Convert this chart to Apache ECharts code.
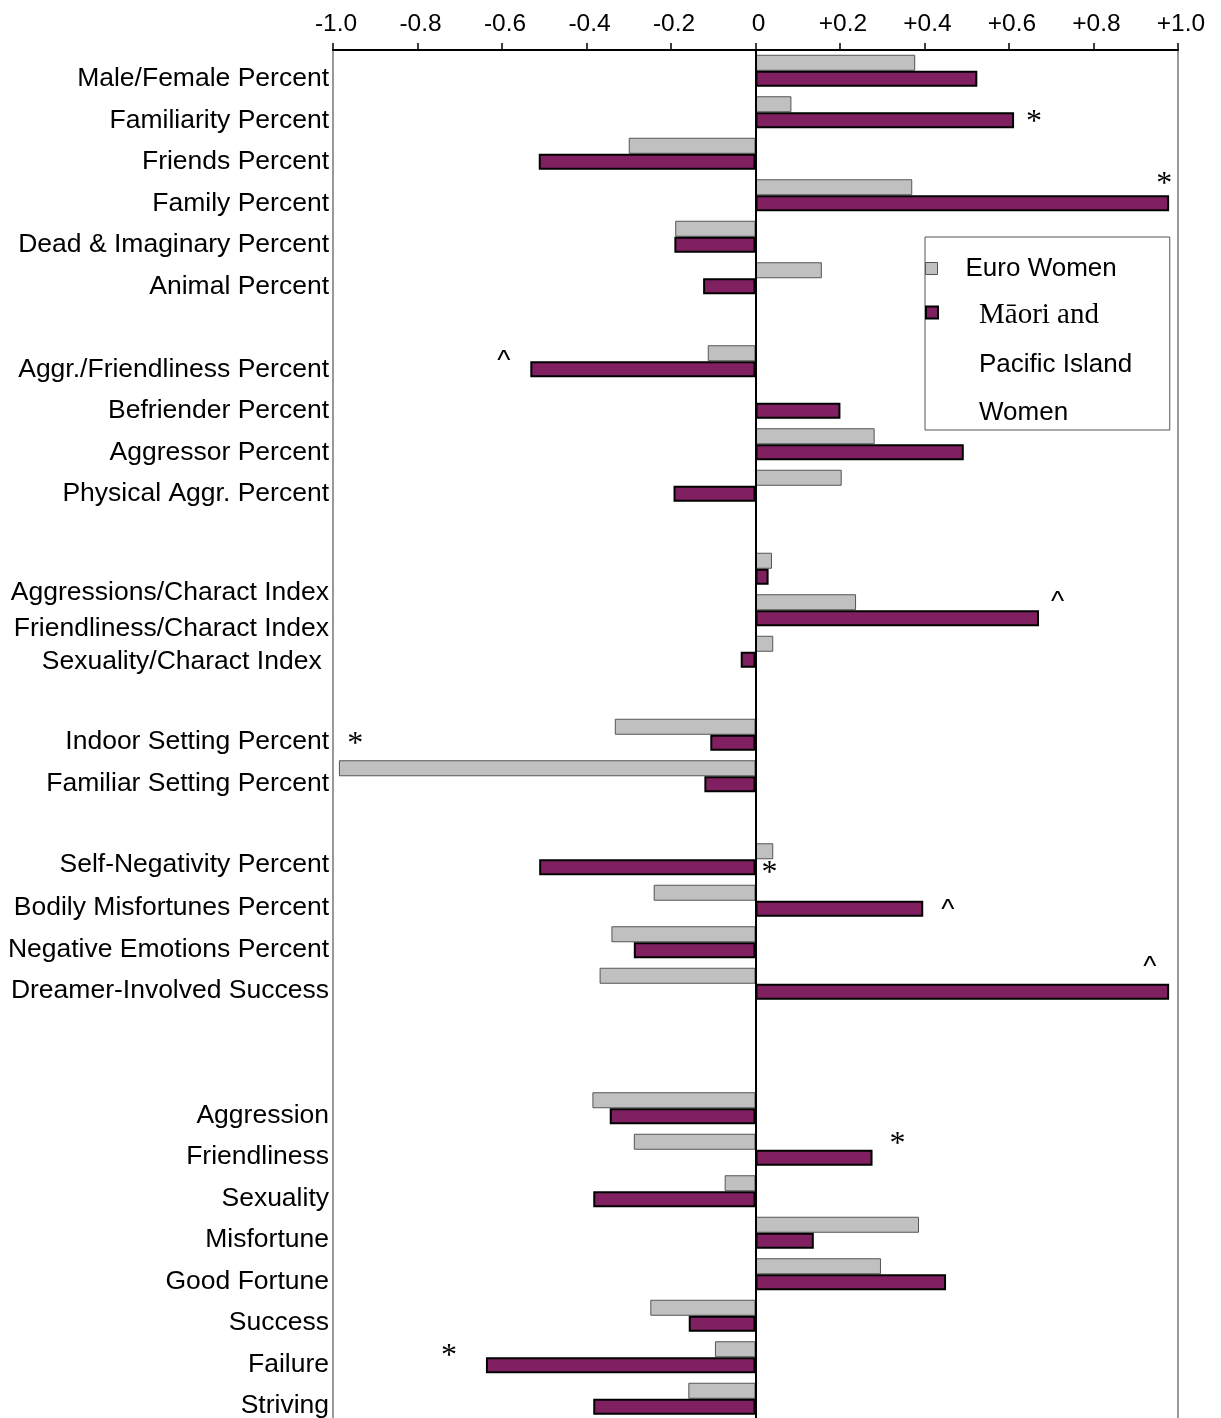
<!DOCTYPE html>
<html>
<head>
<meta charset="utf-8">
<script src="https://cdn.jsdelivr.net/npm/echarts@6/dist/echarts.min.js"></script>
<style>
  html, body { margin: 0; padding: 0; background: #fff; }
  #chart { width: 1221px; height: 1418px; }
</style>
</head>
<body>
<div id="chart"></div>
<script>
// Rows of the chart, top to bottom; empty strings are spacer rows between groups.
const categories = [
  'Male/Female Percent', 'Familiarity Percent', 'Friends Percent', 'Family Percent',
  'Dead & Imaginary Percent', 'Animal Percent', '',
  'Aggr./Friendliness Percent', 'Befriender Percent', 'Aggressor Percent', 'Physical Aggr. Percent', '',
  'Aggressions/Charact Index', 'Friendliness/Charact Index', 'Sexuality/Charact Index ', '',
  'Indoor Setting Percent', 'Familiar Setting Percent', '',
  'Self-Negativity Percent', 'Bodily Misfortunes Percent', 'Negative Emotions Percent', 'Dreamer-Involved Success', '', '',
  'Aggression', 'Friendliness', 'Sexuality', 'Misfortune', 'Good Fortune', 'Success', 'Failure', 'Striving'
];

const euroWomen = [
  0.378, 0.085, -0.300, 0.371, -0.190, 0.157, null,
  -0.113, null, 0.282, 0.204, null,
  0.039, 0.238, 0.042, null,
  -0.333, -0.986, null,
  0.042, -0.241, -0.341, -0.369, null, null,
  -0.386, -0.288, -0.073, 0.387, 0.297, -0.249, -0.096, -0.159
];

const maoriPacificWomen = [
  0.525, 0.612, -0.513, 0.979, -0.192, -0.124, null,
  -0.533, 0.201, 0.493, -0.194, null,
  0.031, 0.671, -0.035, null,
  -0.107, -0.121, null,
  -0.512, 0.397, -0.288, 0.979, null, null,
  -0.345, 0.277, -0.384, 0.138, 0.451, -0.158, -0.638, -0.384
];

// Significance marks next to the Māori and Pacific Island bars.
const significance = [
  '', '*', '', '*', '', '', '',
  '^', '', '', '', '',
  '', '^', '', '',
  '*', '', '',
  '*', '^', '', '^', '', '',
  '', '*', '', '', '', '', '*', ''
];

const tickLabels = ['-1.0', '-0.8', '-0.6', '-0.4', '-0.2', '0', '+0.2', '+0.4', '+0.6', '+0.8', '+1.0'];

const legendLines = ['Māori and', 'Pacific Island', 'Women'];
const seriesNames = ['Euro Women', legendLines.join(' ')];

// ---- presentation ----
const SANS = "'Liberation Sans', Arial, Helvetica, sans-serif";
const SERIF = "'Liberation Serif', 'Times New Roman', serif";
const GREY = '#C0C0C0';
const PLUM = '#802060';

// Row labels sit a little below their bars; a few index labels sit lower still.
const labelShift = {
  'Aggressions/Charact Index': 24, 'Friendliness/Charact Index': 18, 'Sexuality/Charact Index ': 10,
  'Indoor Setting Percent': 7, 'Familiar Setting Percent': 7, 'Self-Negativity Percent': 5,
  'Bodily Misfortunes Percent': 7, 'Negative Emotions Percent': 7, 'Dreamer-Involved Success': 7,
  'Aggression': 7, 'Friendliness': 7, 'Sexuality': 7, 'Misfortune': 7, 'Good Fortune': 7,
  'Success': 7, 'Failure': 7, 'Striving': 7
};
const shiftOf = name => labelShift[name] != null ? labelShift[name] : 8;
const labelRich = {};
[5, 7, 8, 10, 18, 24].forEach(s => {
  labelRich['s' + s] = { fontFamily: SANS, fontSize: 26.5, color: '#000', lineHeight: 30, padding: [2 * s, 0, 0, 0] };
});

// Where each significance mark sits relative to the end of its bar.
const markLayout = {
  'Familiarity Percent':        { pos: 'right', dx: 7,    dy: 2 },
  'Family Percent':             { pos: 'right', dx: -18,  dy: -19 },
  'Aggr./Friendliness Percent': { pos: 'left',  dx: -15,  dy: -8 },
  'Friendliness/Charact Index': { pos: 'right', dx: 7,    dy: -16 },
  'Indoor Setting Percent':     { pos: 'left',  dx: -342, dy: 2 },
  'Self-Negativity Percent':    { pos: 'right', dx: 1,    dy: 6 },
  'Bodily Misfortunes Percent': { pos: 'right', dx: 13,   dy: 2 },
  'Dreamer-Involved Success':   { pos: 'right', dx: -31,  dy: -24 },
  'Friendliness':               { pos: 'right', dx: 12,   dy: -13 },
  'Failure':                    { pos: 'left',  dx: -24,  dy: -9 }
};

const maoriData = maoriPacificWomen.map((v, i) => {
  const mark = significance[i];
  if (!mark) return v;
  const lay = markLayout[categories[i]];
  return {
    value: v,
    label: {
      show: true,
      formatter: mark,
      position: lay.pos,
      offset: [lay.dx, lay.dy],
      color: '#000',
      fontFamily: mark === '*' ? SERIF : SANS,
      fontSize: mark === '*' ? 32 : 28
    }
  };
});

const chart = echarts.init(document.getElementById('chart'), null, { renderer: 'canvas' });

chart.setOption({
  animation: false,
  backgroundColor: '#fff',
  grid: {
    left: 333, right: 43, top: 50, height: 1369.5,
    show: true, borderColor: '#999', borderWidth: 2, backgroundColor: 'transparent',
    outerBoundsMode: 'none'
  },
  xAxis: {
    type: 'value', position: 'top', min: -1, max: 1, interval: 0.2,
    axisLine: { show: true, lineStyle: { color: '#000', width: 2 } },
    axisTick: { show: true, length: 7, lineStyle: { color: '#000', width: 1.5 } },
    splitLine: { show: false },
    axisLabel: {
      showMinLabel: true, showMaxLabel: true,
      margin: 13, fontSize: 24.5, fontFamily: SANS, color: '#000', padding: [0, 0, 0, 6],
      formatter: v => tickLabels[Math.round((v + 1) / 0.2)]
    }
  },
  yAxis: {
    type: 'category', inverse: true, data: categories,
    axisLine: { show: false }, axisTick: { show: false }, splitLine: { show: false },
    axisLabel: {
      interval: 0, margin: 4, fontSize: 26.5, fontFamily: SANS, color: '#000',
      formatter: v => v ? '{s' + shiftOf(v) + '|' + v + '}' : '',
      rich: labelRich
    }
  },
  legend: [
    {
      data: [{ name: seriesNames[0], icon: 'rect', itemStyle: { color: GREY, borderColor: '#555', borderWidth: 1 } }],
      orient: 'vertical', left: 925, top: 237,
      padding: [18.5, 53, 148.5, 0],
      itemWidth: 12, itemHeight: 12,
      borderColor: '#555', borderWidth: 1,
      selectedMode: false,
      formatter: n => '{e|' + n + '}',
      textStyle: { rich: { e: { fontFamily: SANS, fontSize: 26, color: '#000', lineHeight: 30, padding: [0, 0, 0, 23] } } }
    },
    {
      data: [{ name: seriesNames[1], icon: 'rect', itemStyle: { color: PLUM, borderColor: '#000', borderWidth: 2 } }],
      orient: 'vertical', left: 925, top: 210, padding: 0,
      itemWidth: 12, itemHeight: 12,
      selectedMode: false,
      formatter: () => '{s| }\n{s| }\n{m|' + legendLines[0] + '}\n{p|' + legendLines[1] + '}\n{q|' + legendLines[2] + '}',
      textStyle: {
        rich: {
          s: { fontSize: 10, lineHeight: 51 },
          m: { fontFamily: SERIF, fontSize: 29, color: '#000', lineHeight: 48, padding: [0, 0, 0, 36] },
          p: { fontFamily: SANS, fontSize: 26, color: '#000', lineHeight: 50, padding: [0, 0, 0, 36] },
          q: { fontFamily: SANS, fontSize: 26, color: '#000', lineHeight: 46, padding: [0, 0, 0, 36] }
        }
      }
    }
  ],
  series: [
    {
      name: seriesNames[0], type: 'bar', data: euroWomen,
      barWidth: 16, barGap: '0%',
      itemStyle: { color: GREY, borderColor: '#555', borderWidth: 1 }
    },
    {
      name: seriesNames[1], type: 'bar', data: maoriData,
      barWidth: 16, barGap: '0%',
      itemStyle: { color: PLUM, borderColor: '#000', borderWidth: 2 },
      markLine: {
        silent: true, symbol: 'none', label: { show: false },
        lineStyle: { color: '#000', width: 2, type: 'solid' },
        data: [{ xAxis: 0 }]
      }
    }
  ]
});
</script>
</body>
</html>
